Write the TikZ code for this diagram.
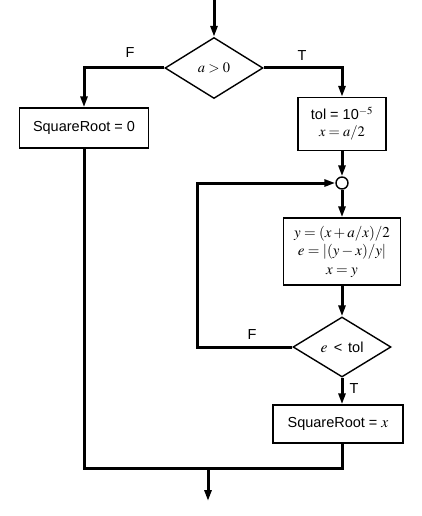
\documentclass[tikz,border=0pt]{standalone}
\usepackage{mathptmx}
\usepackage{fontspec}
\setmainfont{Liberation Sans}
\usetikzlibrary{shapes.geometric,arrows.meta}
\begin{document}
\begin{tikzpicture}[x=1pt,y=-1pt,
  txt/.style={font=\fontsize{14.5}{18}\selectfont},
  box/.style={draw,line width=1.4pt,rectangle,inner sep=0pt,txt,align=center},
  dec/.style={draw,line width=1.4pt,diamond,inner sep=0pt,txt,aspect=1.6},
  flow/.style={line width=3pt},
  arr/.style={line width=3pt,-{Triangle[length=11pt,width=7pt]}},
  lbl/.style={txt}]
\useasboundingbox (0,0) rectangle (421,516);
\coordinate (in) at (214,0);
\node[dec,minimum width=98pt,minimum height=61pt] (d1) at (214,68) {$a > 0$};
\node[box,minimum width=129pt,minimum height=40pt] (b0) at (84,128) {SquareRoot = 0};
\node[box,minimum width=88pt,minimum height=53pt] (tol) at (342,124) {tol = 10$^{-5}$\\[-1pt] $x = a/2$};
\node[draw,circle,line width=1.4pt,minimum size=12pt,inner sep=0pt] (c) at (342,183) {};
\node[box,minimum width=117pt,minimum height=67pt,font=\fontsize{15}{18.5}\selectfont] (calc) at (342,251.5) {$y = (x + a/x)/2$\\ $e = |(y - x)/y|$\\ $x = y$};
\node[dec,minimum width=98pt,minimum height=60pt] (d2) at (342,347) {{\fontsize{15.5}{18}\selectfont$e$}\hspace{0.45em}<\hspace{0.4em}tol};
\node[box,minimum width=130pt,minimum height=38pt] (b1) at (338,424) {SquareRoot = {\fontsize{15.5}{18}\selectfont$x$}};
\coordinate (lx) at (197,183);
\coordinate (mr) at (342,468);
\coordinate (m) at (208,468);
\coordinate (out) at (208,501);
\coordinate (fl) at (84,68);
\coordinate (tr) at (342,68);

\draw[arr] (in) -- (d1.north);
\draw[arr] (d1.west) -- (fl) -- (b0.north);
\draw[arr] (d1.east) -- (tr) -- (tol.north);
\draw[arr] (tol.south) -- (c.north);
\draw[arr] (c.south) -- (calc.north);
\draw[arr] (calc.south) -- (d2.north);
\draw[arr] (d2.west) -| (lx) -- (c.west);
\draw[arr] (d2.south) -- (b1.north -| d2.south);
\draw[flow] (b0.south) |- (mr) -- (b1.south -| mr);
\draw[arr] (m) -- (out);

\node[lbl] (lf1) at (130,53) {F};
\node[lbl] (lt1) at (302,56) {T};
\node[lbl] (lf2) at (252,335) {F};
\node[lbl] (lt2) at (354,389) {T};
\end{tikzpicture}
\end{document}
